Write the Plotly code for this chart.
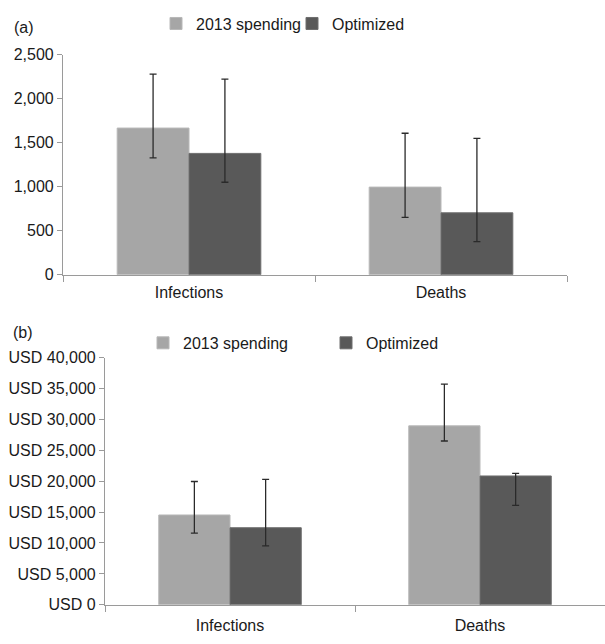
import plotly.graph_objects as go

categories = ["Infections", "Deaths"]
series_names = ["2013 spending", "Optimized"]

# Panel (a): counts
a_2013 = [1667, 996]
a_2013_hi = [2279, 1608]
a_2013_lo = [1327, 653]
a_opt = [1379, 704]
a_opt_hi = [2223, 1549]
a_opt_lo = [1051, 376]

# Panel (b): USD
b_2013 = [14530, 28950]
b_2013_hi = [19950, 35700]
b_2013_lo = [11580, 26500]
b_opt = [12470, 20840]
b_opt_hi = [20300, 21260]
b_opt_lo = [9530, 16100]

a_ticks = [0, 500, 1000, 1500, 2000, 2500]
a_ticklabels = ["0", "500", "1,000", "1,500", "2,000", "2,500"]
b_ticks = [0, 5000, 10000, 15000, 20000, 25000, 30000, 35000, 40000]
b_ticklabels = ["USD 0", "USD 5,000", "USD 10,000", "USD 15,000", "USD 20,000",
                "USD 25,000", "USD 30,000", "USD 35,000", "USD 40,000"]

LIGHT = "#a6a6a6"
DARK = "#595959"
FONT = "Liberation Sans, Arial, Helvetica, sans-serif"
TXT = "#1a1a1a"
W, H = 605, 644


def err(vals, hi, lo):
    return dict(type="data", symmetric=False,
                array=[h - v for h, v in zip(hi, vals)],
                arrayminus=[v - l for v, l in zip(vals, lo)],
                color="#2a2a2a", thickness=1.3, width=3.5)


fig = go.Figure()
fig.add_trace(go.Bar(x=categories, y=a_2013, name=series_names[0],
                     marker=dict(color=LIGHT, line=dict(color="#b8b8b8", width=1)),
                     error_y=err(a_2013, a_2013_hi, a_2013_lo),
                     xaxis="x", yaxis="y", legend="legend"))
fig.add_trace(go.Bar(x=categories, y=a_opt, name=series_names[1],
                     marker=dict(color=DARK, line=dict(color="#6e6e6e", width=1)),
                     error_y=err(a_opt, a_opt_hi, a_opt_lo),
                     xaxis="x", yaxis="y", legend="legend"))
fig.add_trace(go.Bar(x=categories, y=b_2013, name=series_names[0],
                     marker=dict(color=LIGHT, line=dict(color="#b8b8b8", width=1)),
                     error_y=err(b_2013, b_2013_hi, b_2013_lo),
                     xaxis="x2", yaxis="y2", legend="legend2"))
fig.add_trace(go.Bar(x=categories, y=b_opt, name=series_names[1],
                     marker=dict(color=DARK, line=dict(color="#6e6e6e", width=1)),
                     error_y=err(b_opt, b_opt_hi, b_opt_lo),
                     xaxis="x2", yaxis="y2", legend="legend2"))

line_common = dict(showline=True, linecolor="#9a9a9a", linewidth=1.2,
                   ticks="outside", tickcolor="#9a9a9a",
                   showgrid=False, zeroline=False,
                   tickfont=dict(family=FONT, size=16, color=TXT))

fig.update_layout(
    width=W, height=H,
    margin=dict(l=0, r=0, t=0, b=0),
    paper_bgcolor="white", plot_bgcolor="white",
    barmode="group", bargap=0.43, bargroupgap=0,
    font=dict(family=FONT, size=16, color=TXT),
    xaxis=dict(domain=[63 / W, 567 / W], anchor="y", tickson="boundaries",
               ticklen=6, ticklabelstandoff=3, **line_common),
    yaxis=dict(domain=[(H - 274) / H, (H - 48) / H], anchor="x", range=[0, 2500],
               tickvals=a_ticks, ticktext=a_ticklabels, ticklen=5, **line_common),
    xaxis2=dict(domain=[105 / W, 1.0], anchor="y2", tickson="boundaries",
                ticklen=6, ticklabelstandoff=6, **line_common),
    yaxis2=dict(domain=[(H - 613) / H, (H - 359) / H], anchor="x2", range=[0, 40000],
                tickvals=b_ticks, ticktext=b_ticklabels, ticklen=5, **line_common),
    legend=dict(orientation="h", x=156 / W, y=1 - 16 / H, xanchor="left", yanchor="middle",
                font=dict(family=FONT, size=16, color=TXT),
                entrywidth=91, entrywidthmode="pixels", bgcolor="rgba(0,0,0,0)",
                traceorder="normal"),
    legend2=dict(orientation="h", x=143 / W, y=1 - 344 / H, xanchor="left", yanchor="middle",
                 font=dict(family=FONT, size=16, color=TXT),
                 entrywidth=138, entrywidthmode="pixels", bgcolor="rgba(0,0,0,0)",
                 traceorder="normal"),
    annotations=[
        dict(text="(a)", x=12 / W, y=1 - 20 / H, xref="paper", yref="paper",
             xanchor="left", yanchor="middle", showarrow=False,
             font=dict(family=FONT, size=16, color=TXT)),
        dict(text="(b)", x=11 / W, y=1 - 333 / H, xref="paper", yref="paper",
             xanchor="left", yanchor="middle", showarrow=False,
             font=dict(family=FONT, size=16, color=TXT)),
    ],
)

fig.write_html("out.html", config={"displayModeBar": False},
               post_script="document.body.style.margin='0';document.body.style.overflow='hidden';")
